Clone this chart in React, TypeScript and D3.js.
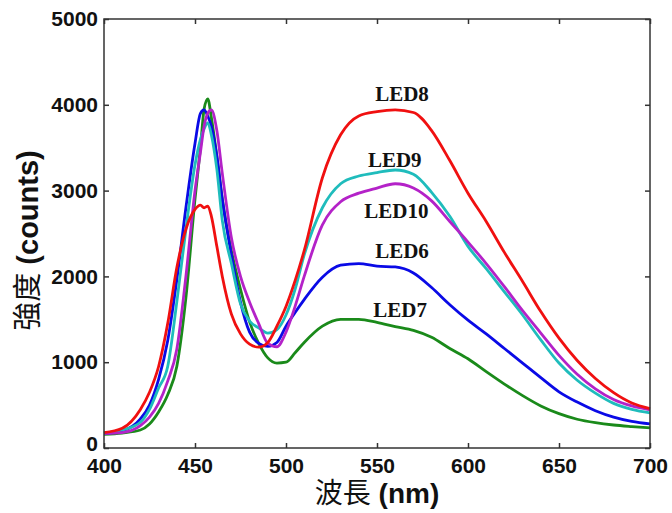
import React, { useEffect, useRef } from "react";
import * as d3 from "d3";

const WIDTH = 672;
const HEIGHT = 513;
const MARGIN = { top: 19, right: 22, bottom: 65, left: 104 };

// wavelength grid (nm)
const wavelength = [400, 410, 420, 425, 430, 435, 440, 445, 450, 453, 455, 457, 459, 462, 465, 470, 475, 480, 485, 490, 495, 500, 505, 510, 520, 530, 540, 550, 560, 570, 580, 590, 600, 610, 620, 630, 640, 650, 660, 670, 680, 690, 700];

const led8 = [180, 230, 450, 650, 950, 1450, 2100, 2550, 2780, 2830, 2800, 2820, 2700, 2350, 2000, 1560, 1330, 1210, 1175, 1230, 1420, 1650, 1950, 2300, 3150, 3650, 3870, 3920, 3940, 3910, 3700, 3350, 2970, 2640, 2280, 1940, 1590, 1280, 1020, 810, 645, 525, 460];
const led6 = [170, 200, 340, 500, 800, 1250, 1960, 2800, 3550, 3900, 3940, 3870, 3750, 3400, 2900, 2250, 1700, 1350, 1220, 1185, 1230, 1420, 1580, 1730, 1990, 2130, 2150, 2120, 2110, 2040, 1870, 1670, 1490, 1330, 1160, 990, 820, 655, 535, 435, 360, 310, 280];
const led7 = [160, 175, 210, 280, 420, 620, 950, 1750, 2900, 3500, 3950, 4070, 3850, 3400, 2900, 2300, 1850, 1470, 1220, 1050, 990, 1000, 1110, 1230, 1420, 1500, 1500, 1465, 1415, 1370, 1290, 1160, 1040, 890, 745, 610, 490, 400, 335, 295, 268, 250, 235];
const led9 = [175, 210, 300, 450, 700, 950, 1700, 2550, 3300, 3600, 3720, 3790, 3650, 3250, 2650, 2150, 1680, 1480, 1400, 1340, 1380, 1550, 1850, 2250, 2800, 3080, 3170, 3210, 3240, 3190, 2980, 2700, 2350, 2090, 1820, 1550, 1260, 990, 790, 640, 520, 450, 410];
const led10 = [170, 180, 260, 360, 520, 780, 1150, 2000, 3000, 3450, 3750, 3900, 3940, 3700, 3200, 2450, 2000, 1700, 1450, 1220, 1180, 1350, 1650, 2000, 2600, 2870, 2970, 3030, 3080, 3030, 2880, 2640, 2400, 2150, 1880, 1600, 1340, 1080, 860, 690, 565, 490, 445];

const seriesNames = ["LED7", "LED6", "LED9", "LED10", "LED8"];
const seriesValues = [led7, led6, led9, led10, led8];
const seriesColors = ["#1a8a1a", "#0a0ae6", "#1fbcbc", "#b422c8", "#f01010"];

// annotation anchors (nm, counts) = left/baseline of text
const labelNames = ["LED8", "LED9", "LED10", "LED6", "LED7"];
const labelNm = [549, 545, 543, 549, 548];
const labelCounts = [4045, 3275, 2680, 2215, 1525];

const xTicks = [400, 450, 500, 550, 600, 650, 700];
const yTicks = [0, 1000, 2000, 3000, 4000, 5000];

export default function App() {
  const axesRef = useRef<SVGGElement>(null);
  const boundsWidth = WIDTH - MARGIN.left - MARGIN.right;
  const boundsHeight = HEIGHT - MARGIN.top - MARGIN.bottom;

  const xScale = d3.scaleLinear().domain([400, 700]).range([0, boundsWidth]);
  const yScale = d3.scaleLinear().domain([0, 5000]).range([boundsHeight, 0]);

  useEffect(() => {
    const g = d3.select(axesRef.current);
    g.selectAll("*").remove();
    const fmt = d3.format("d");

    const bottom = g.append("g").attr("transform", `translate(0,${boundsHeight})`)
      .call(d3.axisBottom(xScale).tickValues(xTicks).tickSize(-5).tickPadding(10).tickFormat(fmt));
    const left = g.append("g")
      .call(d3.axisLeft(yScale).tickValues(yTicks).tickSize(-5).tickPadding(6).tickFormat(fmt));
    g.append("g")
      .call(d3.axisTop(xScale).tickValues(xTicks).tickSize(-5).tickFormat(() => ""));
    g.append("g").attr("transform", `translate(${boundsWidth},0)`)
      .call(d3.axisRight(yScale).tickValues(yTicks).tickSize(-5).tickFormat(() => ""));

    g.selectAll(".domain").remove();
    g.selectAll(".tick line").attr("stroke", "#333").attr("stroke-width", 1.5);
    [bottom, left].forEach((a) => {
      a.selectAll("text")
        .attr("fill", "#111")
        .style("font-family", "'Liberation Sans', Arial, sans-serif")
        .style("font-weight", "bold")
        .style("font-size", "21px");
    });
    // the zero label sits just above the 400 label, as in the original
    left.selectAll<SVGTextElement, number>("text").filter((d) => d === 0).attr("dy", "0.1em");
  }, [boundsHeight, boundsWidth]);

  const line = d3.line<number>()
    .x((_, i) => xScale(wavelength[i]))
    .y((d) => yScale(d))
    .curve(d3.curveMonotoneX);

  return (
    <div style={{ position: "absolute", left: 0, top: 0 }}>
      <svg width={WIDTH} height={HEIGHT} style={{ display: "block", background: "#fff" }}>
        <g transform={`translate(${MARGIN.left},${MARGIN.top})`}>
          {seriesValues.map((vals, i) => (
            <path key={seriesNames[i]} d={line(vals) || ""} fill="none"
              stroke={seriesColors[i]} strokeWidth={2.8} strokeLinejoin="round" />
          ))}
          <rect x={0} y={0} width={boundsWidth} height={boundsHeight}
            fill="none" stroke="#333" strokeWidth={1.5} />
          <g ref={axesRef}></g>
          {labelNames.map((name, i) => (
            <text key={name} x={xScale(labelNm[i])} y={yScale(labelCounts[i])}
              fontFamily="'Liberation Serif', 'Times New Roman', serif" fontWeight="bold"
              fontSize={21} fill="#111">{name}</text>
          ))}
        </g>
        <text x={MARGIN.left + boundsWidth / 2} y={503} textAnchor="middle" fill="#111" fontSize={28}>
          <tspan fontFamily="'Noto Sans CJK TC', sans-serif">波長</tspan>
          <tspan fontFamily="'Liberation Sans', Arial, sans-serif" fontWeight="bold"> (nm)</tspan>
        </text>
        <text transform={`translate(38,${MARGIN.top + boundsHeight / 2 + 7}) rotate(-90)`}
          textAnchor="middle" fill="#111" fontSize={29}>
          <tspan fontFamily="'Noto Sans CJK TC', sans-serif">強度</tspan>
          <tspan fontFamily="'Liberation Sans', Arial, sans-serif" fontWeight="bold"> (counts)</tspan>
        </text>
      </svg>
    </div>
  );
}
